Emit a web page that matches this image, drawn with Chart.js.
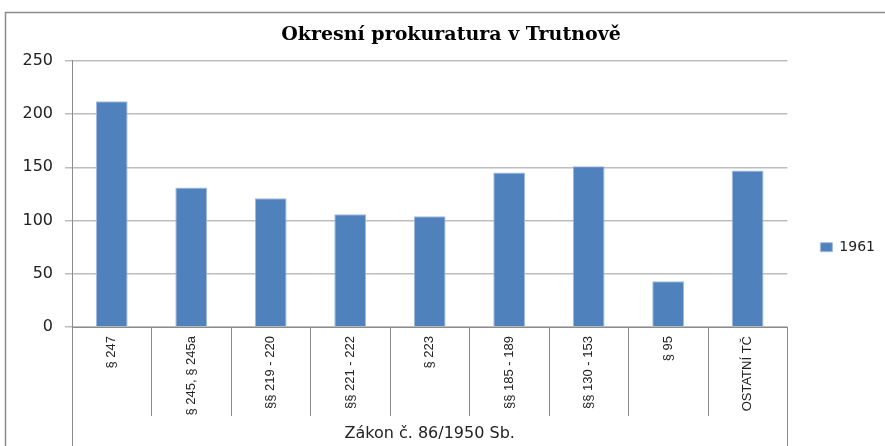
<!DOCTYPE html>
<html>
<head>
<meta charset="utf-8">
<script src="https://cdn.jsdelivr.net/npm/chart.js"></script>
<style>
  html, body { margin: 0; padding: 0; background: #fff; }
  #wrap { width: 885px; height: 446px; position: relative; }
</style>
</head>
<body>
<div id="wrap"><canvas id="chart" width="885" height="446"></canvas></div>
<script>
const categories = ['§ 247', '§ 245, § 245a', '§§ 219 - 220', '§§ 221 - 222', '§ 223', '§§ 185 - 189', '§§ 130 - 153', '§ 95', 'OSTATNÍ TČ'];
const values1961 = [212, 131, 121, 106, 104, 145, 151, 43, 147];
const seriesName = '1961';
const groupLabel = 'Zákon č. 86/1950 Sb.';
const chartTitle = 'Okresní prokuratura v Trutnově';

// frame, category dividers and the group label under the x axis
const excelAxis = {
    id: 'excelAxis',
    beforeDraw(chart) {
        const ctx = chart.ctx;
        ctx.save();
        ctx.strokeStyle = '#8c8c8c';
        ctx.lineWidth = 1.5;
        ctx.beginPath();
        ctx.moveTo(5.5, 446);
        ctx.lineTo(5.5, 12.5);
        ctx.lineTo(885, 12.5);
        ctx.stroke();
        ctx.restore();
    },
    afterDraw(chart) {
        const ctx = chart.ctx;
        const x = chart.scales.x;
        const area = chart.chartArea;
        const step = (area.right - area.left) / categories.length;
        ctx.save();
        ctx.strokeStyle = '#8c8c8c';
        ctx.lineWidth = 1;
        ctx.beginPath();
        for (let i = 1; i < categories.length; i++) {
            const px = Math.round(x.getPixelForValue(i) - step / 2) + 0.5;
            ctx.moveTo(px, area.bottom);
            ctx.lineTo(px, area.bottom + 89);
        }
        ctx.moveTo(Math.round(area.left) + 0.5, area.bottom);
        ctx.lineTo(Math.round(area.left) + 0.5, 446);
        ctx.moveTo(Math.round(area.right) + 0.5, area.bottom);
        ctx.lineTo(Math.round(area.right) + 0.5, 446);
        ctx.stroke();
        ctx.fillStyle = '#222';
        ctx.font = '16px "DejaVu Sans"';
        ctx.textAlign = 'center';
        ctx.textBaseline = 'middle';
        ctx.fillText(groupLabel, (area.left + area.right) / 2, 434);
        ctx.restore();
    }
};

new Chart(document.getElementById('chart'), {
    type: 'bar',
    data: {
        labels: categories,
        datasets: [{
            label: seriesName,
            data: values1961,
            backgroundColor: '#4f81bd',
            borderColor: '#9fbbe0',
            borderWidth: 1,
            categoryPercentage: 1,
            barPercentage: 0.4
        }]
    },
    options: {
        responsive: false,
        animation: false,
        devicePixelRatio: 1,
        layout: { padding: { left: 17, right: 0, top: 12, bottom: 0 } },
        plugins: {
            title: {
                display: true,
                text: chartTitle,
                color: '#000',
                font: { family: '"DejaVu Serif"', size: 19, weight: 'bold' },
                padding: { top: 12, bottom: 14 }
            },
            legend: {
                position: 'right',
                title: { display: true, text: ' ', font: { size: 12 }, padding: { top: 11, bottom: 11 } },
                labels: {
                    boxWidth: 12,
                    boxHeight: 9,
                    padding: 10,
                    color: '#222',
                    font: { family: '"DejaVu Sans"', size: 14 }
                }
            },
            tooltip: { enabled: false }
        },
        scales: {
            x: {
                grid: { display: false },
                border: { color: '#8c8c8c', width: 1 },
                ticks: {
                    minRotation: 90,
                    maxRotation: 90,
                    padding: 1,
                    color: '#222',
                    font: { family: '"Liberation Sans"', size: 13 }
                },
                afterFit(scale) { scale.height = 119; }
            },
            y: {
                min: 0,
                max: 250,
                ticks: {
                    stepSize: 50,
                    padding: 12,
                    color: '#222',
                    font: { family: '"DejaVu Sans"', size: 16 }
                },
                grid: { color: '#bdbdbd', lineWidth: 1.5, tickLength: 7 },
                border: { color: '#8c8c8c', width: 1 },
                afterFit(scale) { scale.width = 55; }
            },
            // empty scale that only keeps a gap between plot and legend
            gap: {
                type: 'linear',
                position: 'right',
                display: true,
                grid: { display: false, drawTicks: false },
                border: { display: false },
                ticks: { display: false },
                afterFit(scale) { scale.width = 23; }
            }
        }
    },
    plugins: [excelAxis]
});
</script>
</body>
</html>
